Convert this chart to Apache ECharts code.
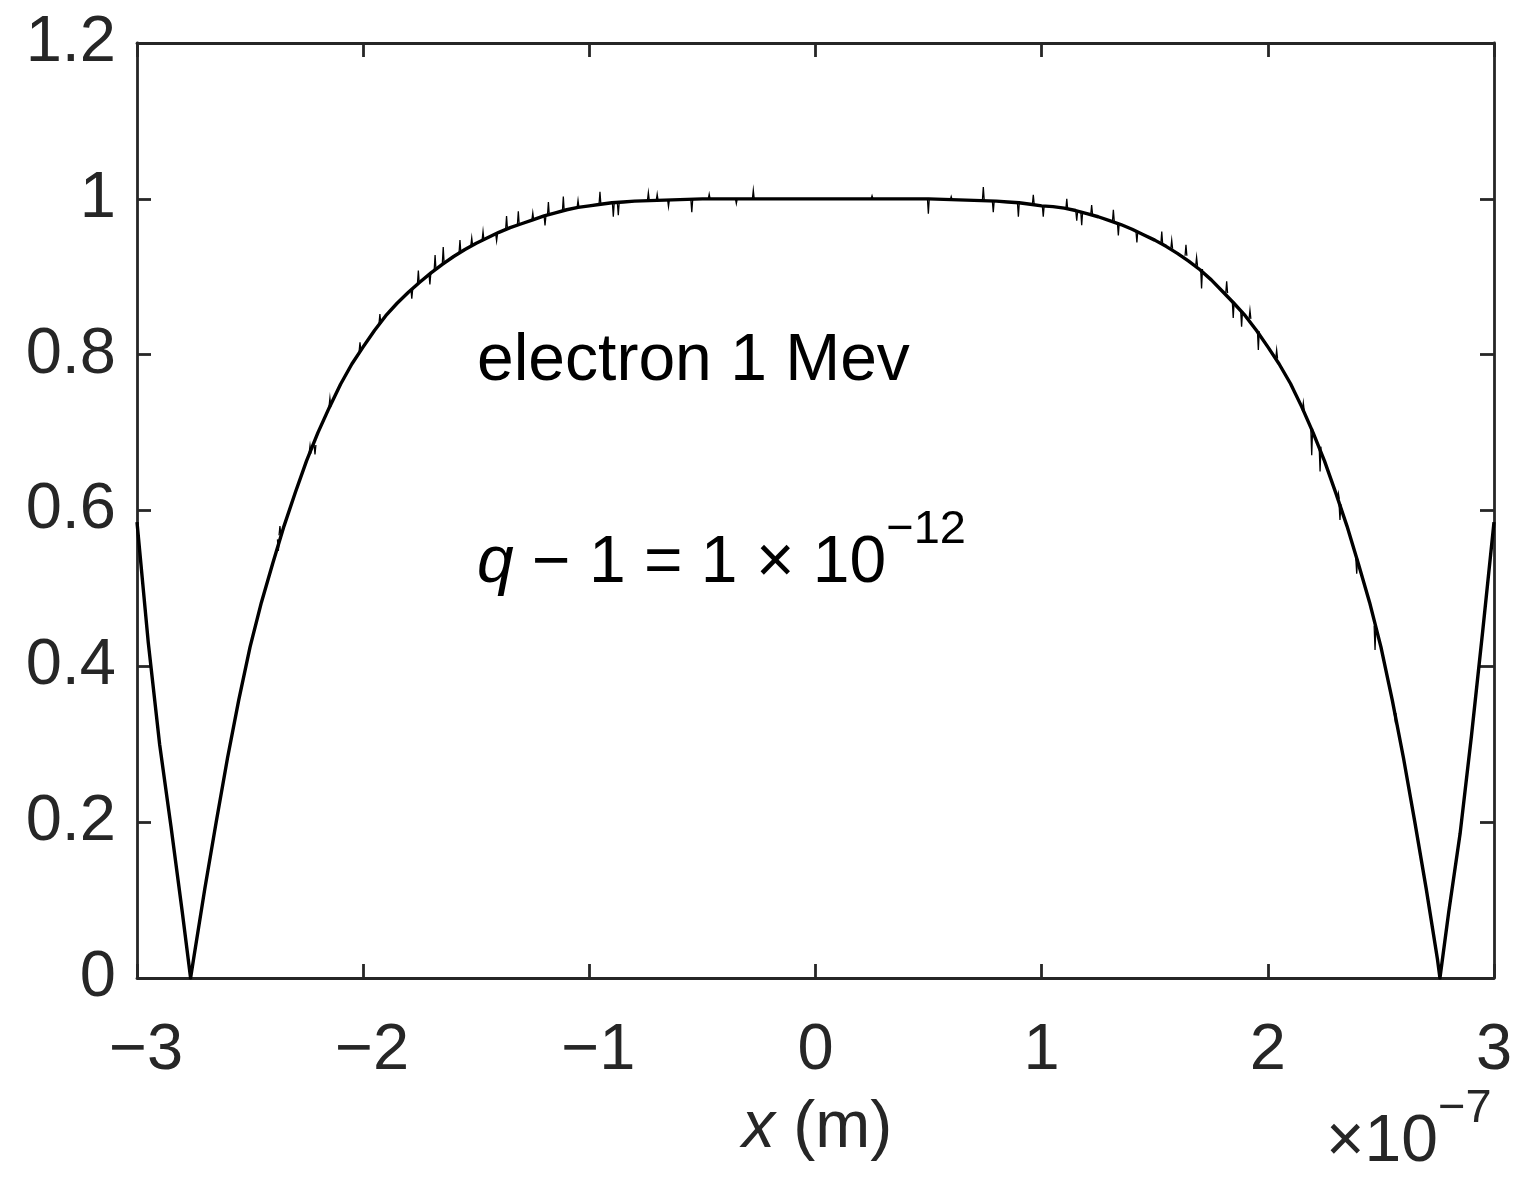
<!DOCTYPE html>
<html>
<head>
<meta charset="utf-8">
<script src="https://cdn.jsdelivr.net/npm/echarts/dist/echarts.min.js"></script>
<style>
html,body{margin:0;padding:0;background:#fff;}
#chart{width:1536px;height:1194px;}
</style>
</head>
<body>
<div id="chart"></div>
<script>
// x in units of 1e-7 m
const curveX = [
  -3.00, -2.95, -2.90, -2.85, -2.80, -2.763,
  -2.75, -2.70, -2.65, -2.60, -2.55, -2.50, -2.45, -2.40, -2.35, -2.30,
  -2.25, -2.20, -2.15, -2.10, -2.05, -2.00, -1.95, -1.90, -1.85, -1.80,
  -1.75, -1.70, -1.65, -1.60, -1.55, -1.50, -1.45, -1.40, -1.35, -1.30,
  -1.25, -1.20, -1.15, -1.10, -1.05, -1.00, -0.95, -0.90, -0.85, -0.80,
  -0.70, -0.60, -0.50, -0.40, -0.30, -0.20, -0.10, 0.00,
  0.10, 0.20, 0.30, 0.40, 0.50, 0.60, 0.70,
  0.80, 0.85, 0.90, 0.95, 1.00, 1.05, 1.10, 1.15, 1.20, 1.25,
  1.30, 1.35, 1.40, 1.45, 1.50, 1.55, 1.60, 1.65, 1.70, 1.75,
  1.80, 1.85, 1.90, 1.95, 2.00, 2.05, 2.10, 2.15, 2.20, 2.25,
  2.30, 2.35, 2.40, 2.45, 2.50, 2.55, 2.60, 2.65, 2.70, 2.75,
  2.761, 2.80, 2.85, 2.90, 2.95, 3.00
];
const curveY = [
  0.585, 0.430, 0.300, 0.195, 0.085, 0.000,
  0.024, 0.115, 0.200, 0.282, 0.357, 0.425, 0.482, 0.532, 0.580, 0.623,
  0.664, 0.700, 0.732, 0.762, 0.788, 0.810, 0.831, 0.850, 0.866, 0.880,
  0.893, 0.905, 0.916, 0.926, 0.935, 0.943, 0.950, 0.957, 0.963, 0.968,
  0.973, 0.978, 0.982, 0.986, 0.989, 0.991, 0.993, 0.995, 0.996, 0.997,
  0.998, 0.999, 1.000, 1.000, 1.000, 1.000, 1.000, 1.000,
  1.000, 1.000, 1.000, 1.000, 1.000, 0.999, 0.998,
  0.997, 0.996, 0.995, 0.993, 0.991, 0.990, 0.988, 0.985, 0.981, 0.977,
  0.972, 0.967, 0.961, 0.954, 0.947, 0.939, 0.930, 0.920, 0.909, 0.896,
  0.881, 0.866, 0.850, 0.831, 0.810, 0.788, 0.763, 0.733, 0.700, 0.664,
  0.623, 0.580, 0.532, 0.482, 0.425, 0.357, 0.282, 0.200, 0.115, 0.024,
  0.000, 0.085, 0.185, 0.310, 0.445, 0.585
];
// small noise spikes: position, curve level, spike tip
const spikeX = [
  -2.375, -2.368, -2.235, -2.213, -2.147, -2.014, -1.926, -1.785, -1.756, -1.705,
  -1.682, -1.646, -1.572, -1.520, -1.470, -1.410, -1.366, -1.314, -1.250, -1.196,
  -1.181, -1.115, -1.050, -0.953, -0.894, -0.872, -0.739, -0.700, -0.650, -0.547,
  -0.470, -0.350, -0.275, 0.250, 0.499, 0.600, 0.742, 0.786, 0.897, 0.963,
  1.007, 1.111, 1.155, 1.177, 1.221, 1.317, 1.339, 1.421, 1.531, 1.575,
  1.638, 1.685, 1.707, 1.818, 1.847, 1.884, 1.921, 1.958, 2.039, 2.157,
  2.194, 2.231, 2.312, 2.319, 2.393, 2.474, 2.563
];
const spikeBase = [
  0.563, 0.568, 0.673, 0.684, 0.733, 0.804, 0.840, 0.884, 0.891, 0.904,
  0.909, 0.917, 0.931, 0.940, 0.947, 0.955, 0.961, 0.967, 0.973, 0.978,
  0.979, 0.984, 0.989, 0.993, 0.995, 0.995, 0.998, 0.998, 0.999, 0.999,
  1.000, 1.000, 1.000, 1.000, 1.000, 0.999, 0.998, 0.997, 0.995, 0.993,
  0.991, 0.987, 0.984, 0.983, 0.980, 0.971, 0.969, 0.958, 0.942, 0.936,
  0.927, 0.914, 0.910, 0.879, 0.868, 0.856, 0.846, 0.830, 0.795, 0.728,
  0.705, 0.682, 0.615, 0.608, 0.538, 0.452, 0.340
];
const spikeTip = [
  0.548, 0.580, 0.683, 0.672, 0.744, 0.816, 0.852, 0.872, 0.908, 0.890,
  0.928, 0.938, 0.947, 0.950, 0.958, 0.946, 0.978, 0.984, 0.982, 0.966,
  0.996, 1.003, 0.998, 1.009, 0.977, 0.979, 1.008, 1.006, 0.990, 0.983,
  1.006, 0.994, 1.011, 1.004, 0.981, 1.003, 1.015, 0.983, 0.977, 1.005,
  0.977, 1.000, 0.972, 0.966, 0.992, 0.986, 0.953, 0.944, 0.958, 0.947,
  0.941, 0.925, 0.885, 0.894, 0.847, 0.836, 0.857, 0.806, 0.806, 0.738,
  0.671, 0.650, 0.622, 0.588, 0.519, 0.421, 0.331
];
const xMin = -3, xMax = 3, xStep = 1;
const yMin = 0, yMax = 1.2, yStep = 0.2;
const xExponent = '\u22127';
const annotation1 = 'electron 1 Mev';
const annotation2Main = ' \u2212 1 = 1 \u00d7 10';
const annotation2Exp = '\u221212';

const FONT = "'Liberation Sans', Arial, Helvetica, sans-serif";
const AX = '#262626';
const SPIKE_HALF_WIDTH = 0.004; // drawing width of a spike, in axis units

const chart = echarts.init(document.getElementById('chart'), null, {renderer: 'canvas'});

const curveData = curveX.map((x, i) => [x, curveY[i]]);
const spikeData = spikeX.map((x, i) => ({
  coords: [[x - SPIKE_HALF_WIDTH, spikeBase[i]], [x, spikeTip[i]], [x + SPIKE_HALF_WIDTH, spikeBase[i]]]
}));

const axisLineStyle = {color: AX, width: 2.8};
const fmtX = v => (v < 0 ? '{n|\u2212' + (-v) + '}' : '{p|' + v + '}');
const fmtY = v => String(parseFloat(v.toFixed(1)));

chart.setOption({
  animation: false,
  backgroundColor: '#ffffff',
  grid: {left: 137, top: 43, width: 1357, height: 935, containLabel: false, outerBoundsMode: 'none'},
  xAxis: [
    {
      type: 'value', position: 'bottom', min: xMin, max: xMax, interval: xStep,
      axisLine: {show: true, onZero: false, lineStyle: axisLineStyle},
      axisTick: {show: true, inside: true, length: 14, lineStyle: axisLineStyle},
      splitLine: {show: false},
      axisLabel: {show: true, color: AX, fontFamily: FONT, fontSize: 65, margin: 41,
        formatter: fmtX, showMinLabel: true, showMaxLabel: true,
        rich: {
          n: {fontFamily: FONT, fontSize: 65, color: AX, padding: [0, 0, 0, 18]},
          p: {fontFamily: FONT, fontSize: 65, color: AX}
        }}
    },
    {
      type: 'value', position: 'top', min: xMin, max: xMax, interval: xStep,
      axisLine: {show: true, onZero: false, lineStyle: axisLineStyle},
      axisTick: {show: true, inside: true, length: 14, lineStyle: axisLineStyle},
      splitLine: {show: false}, axisLabel: {show: false}
    }
  ],
  yAxis: [
    {
      type: 'value', position: 'left', min: yMin, max: yMax, interval: yStep,
      axisLine: {show: true, onZero: false, lineStyle: axisLineStyle},
      axisTick: {show: true, inside: true, length: 14, lineStyle: axisLineStyle},
      splitLine: {show: false},
      axisLabel: {show: true, color: AX, fontFamily: FONT, fontSize: 65, margin: 21,
        formatter: fmtY, padding: [14, 0, 0, 0], showMinLabel: true, showMaxLabel: true}
    },
    {
      type: 'value', position: 'right', min: yMin, max: yMax, interval: yStep,
      axisLine: {show: true, onZero: false, lineStyle: axisLineStyle},
      axisTick: {show: true, inside: true, length: 14, lineStyle: axisLineStyle},
      splitLine: {show: false}, axisLabel: {show: false}
    }
  ],
  series: [
    {
      type: 'line', xAxisIndex: 0, yAxisIndex: 0, data: curveData,
      showSymbol: false, symbol: 'none', smooth: false, clip: true,
      lineStyle: {color: '#000000', width: 3.4, join: 'round'}, z: 3
    },
    {
      type: 'lines', coordinateSystem: 'cartesian2d', xAxisIndex: 0, yAxisIndex: 0,
      data: spikeData, polyline: true, symbol: 'none',
      lineStyle: {color: '#000000', width: 1.3, opacity: 1}, z: 4
    }
  ],
  graphic: [
    {
      type: 'text', left: 477, top: 329, z: 10,
      style: {text: annotation1, fill: '#000', font: "66px 'Liberation Sans', Arial, sans-serif"}
    },
    {
      type: 'text', left: 477, top: 507, z: 10,
      style: {
        text: '{q|q}{m|' + annotation2Main + '}{s|' + annotation2Exp + '}',
        fill: '#000',
        rich: {
          q: {fontFamily: FONT, fontSize: 66, fontStyle: 'italic', lineHeight: 90, verticalAlign: 'bottom', fill: '#000'},
          m: {fontFamily: FONT, fontSize: 66, lineHeight: 90, verticalAlign: 'bottom', fill: '#000'},
          s: {fontFamily: FONT, fontSize: 47, lineHeight: 47, verticalAlign: 'top', fill: '#000'}
        }
      }
    },
    {
      type: 'text', left: 742, top: 1096, z: 10,
      style: {
        text: '{i|x} {n|(m)}',
        fill: AX,
        rich: {
          i: {fontFamily: FONT, fontSize: 66, fontStyle: 'italic', fill: AX},
          n: {fontFamily: FONT, fontSize: 66, fill: AX}
        },
        font: "66px 'Liberation Sans', Arial, sans-serif"
      }
    },
    {
      type: 'text', left: 1326, top: 1086, z: 10,
      style: {
        text: '{b|\u00d710}{s|' + xExponent + '}',
        fill: AX,
        rich: {
          b: {fontFamily: FONT, fontSize: 66, lineHeight: 90, verticalAlign: 'bottom', fill: AX},
          s: {fontFamily: FONT, fontSize: 47, lineHeight: 47, verticalAlign: 'top', fill: AX}
        }
      }
    }
  ]
});
</script>
</body>
</html>
